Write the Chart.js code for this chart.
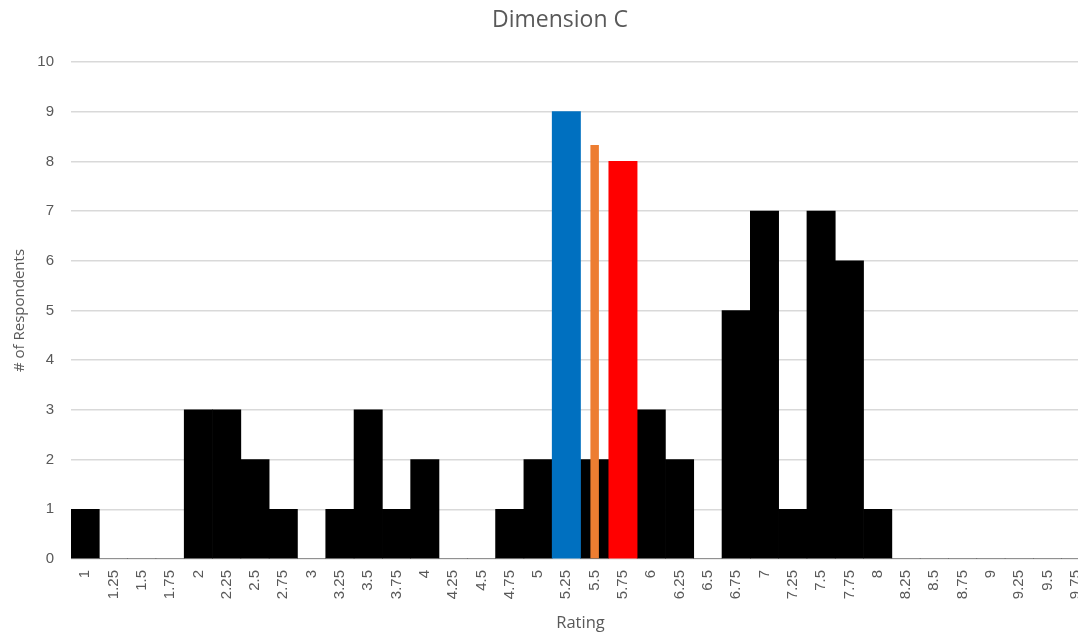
<!DOCTYPE html>
<html>
<head>
<meta charset="utf-8">
<script src="https://cdn.jsdelivr.net/npm/chart.js@4/dist/chart.umd.min.js"></script>
<style>
  html, body { margin: 0; padding: 0; background: #fff; overflow: hidden; }
  #wrap { position: absolute; left: 0; top: 0; }
</style>
</head>
<body>
<div id="wrap"><canvas id="c" width="1120" height="633"></canvas></div>
<script>
// Rating bins (category axis)
const ratings = ['1','1.25','1.5','1.75','2','2.25','2.5','2.75','3','3.25','3.5','3.75','4','4.25','4.5','4.75',
                 '5','5.25','5.5','5.75','6','6.25','6.5','6.75','7','7.25','7.5','7.75','8','8.25','8.5','8.75',
                 '9','9.25','9.5','9.75'];

// Respondent counts per rating bin
const respondents = [1,0,0,0,3,3,2,1,0,1,3,1,2,0,0,1,
                     2,null,2,null,3,2,0,5,7,1,7,6,1,0,0,0,
                     0,0,0,0];

// Highlighted bins and marker
const blueBin = [{ x: '5.25', y: 9 }];
const orangeMarker = [{ x: '5.5', y: 8.33 }];
const redBin = [{ x: '5.75', y: 8 }];

const yTicks = [0,1,2,3,4,5,6,7,8,9,10];

const GREY = '#595959';
const TICK_FONT = { family: '"Liberation Sans", Arial, sans-serif', size: 15 };
const TEXT_FAMILY = '"Open Sans", "Noto Sans", sans-serif';

new Chart(document.getElementById('c'), {
  type: 'bar',
  data: {
    labels: ratings,
    datasets: [
      { data: respondents, backgroundColor: '#000000', barPercentage: 1, categoryPercentage: 1, grouped: false, order: 4 },
      { data: blueBin, backgroundColor: '#0070C0', barPercentage: 1, categoryPercentage: 1, grouped: false, order: 3 },
      { data: orangeMarker, backgroundColor: '#ED7D31', barPercentage: 0.3, categoryPercentage: 1, grouped: false, order: 2 },
      { data: redBin, backgroundColor: '#FF0000', barPercentage: 1, categoryPercentage: 1, grouped: false, order: 1 }
    ]
  },
  options: {
    responsive: false,
    animation: false,
    devicePixelRatio: 1,
    layout: { padding: 0 },
    plugins: {
      legend: { display: false },
      tooltip: { enabled: false },
      title: {
        display: true,
        text: 'Dimension C',
        color: GREY,
        font: { family: TEXT_FAMILY, size: 23, weight: 'normal', lineHeight: 1.2 },
        padding: { top: 7, bottom: 27.4 }
      }
    },
    scales: {
      x: {
        offset: true,
        grid: { display: false, drawTicks: false },
        border: { display: false },
        ticks: { color: GREY, font: TICK_FONT, minRotation: 90, maxRotation: 90, padding: 11, autoSkip: false },
        title: { display: true, text: 'Rating', color: GREY, font: { family: TEXT_FAMILY, size: 16.5 }, padding: { top: 0, bottom: 0 } },
        afterFit: s => { s.height = 74; s.paddingLeft = 0; s.paddingRight = 30; }
      },
      y: {
        min: 0,
        max: 10,
        afterBuildTicks: s => { s.ticks = yTicks.map(v => ({ value: v })); },
        grid: { color: '#d9d9d9', lineWidth: 1.6, drawTicks: false },
        border: { display: false },
        ticks: { color: GREY, font: TICK_FONT, padding: 17 },
        title: { display: true, text: '# of Respondents', color: GREY, font: { family: TEXT_FAMILY, size: 15 }, padding: { top: 11, bottom: 0 } },
        afterFit: s => { s.width = 71; s.paddingTop = 0; s.paddingBottom = 0; }
      }
    }
  }
});
</script>
</body>
</html>
